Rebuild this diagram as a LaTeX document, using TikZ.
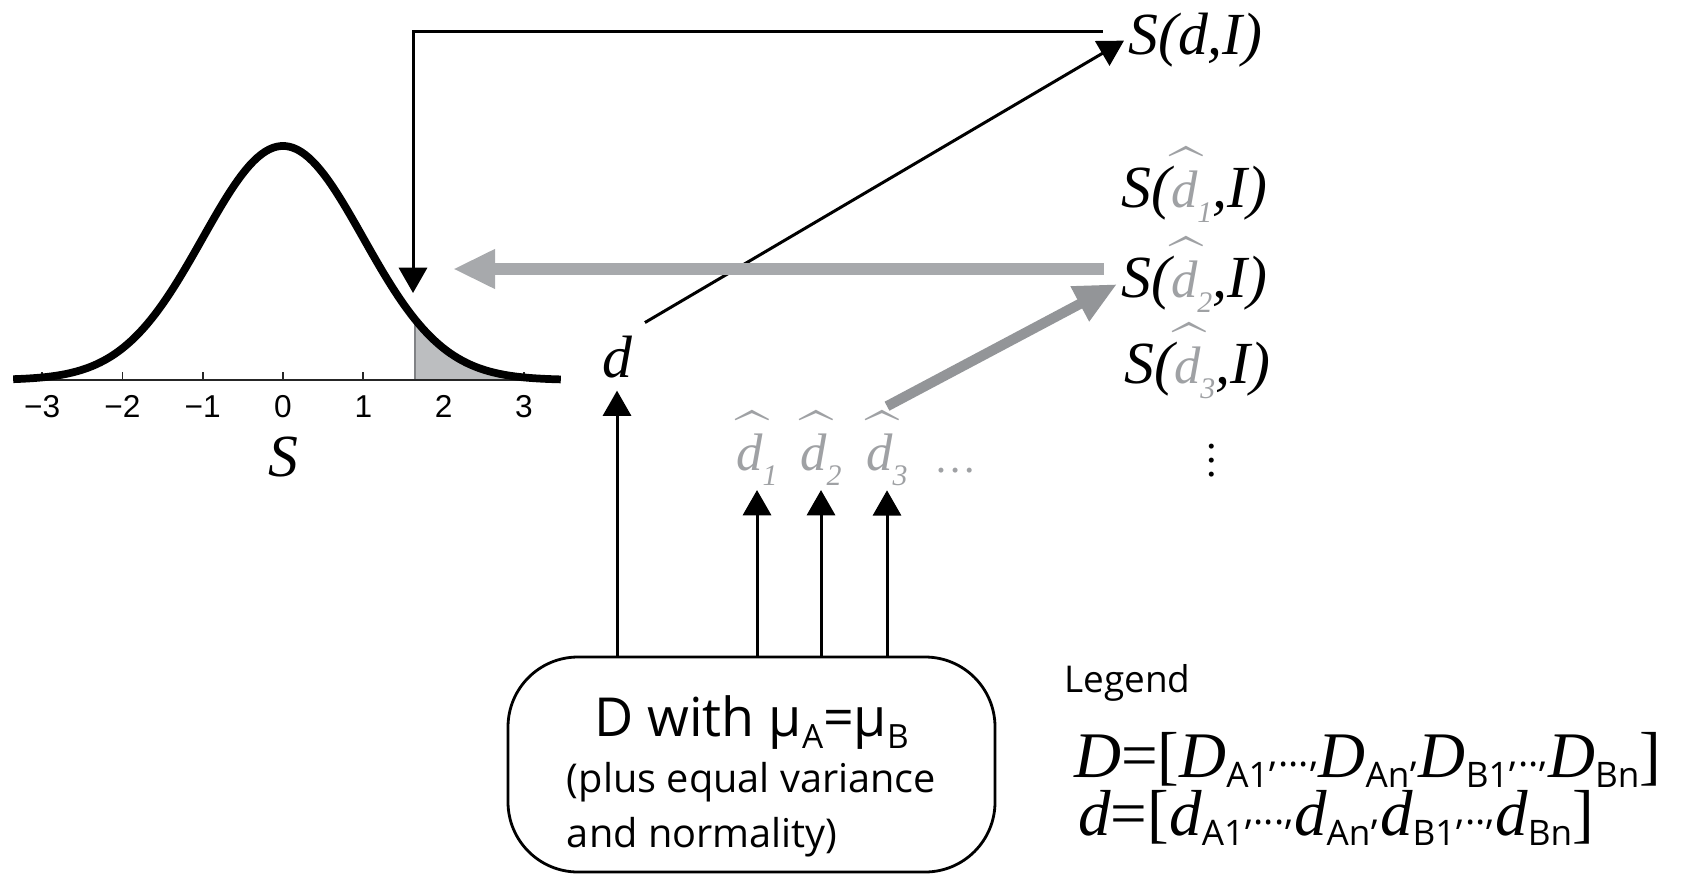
\documentclass[tikz,border=0pt]{standalone}
\usepackage{fontspec}
\usepackage{amsmath}
\usepackage{graphicx}
\setmainfont{Liberation Serif}
\setsansfont{Open Sans}
\newfontfamily\tickfont{Liberation Sans}
\usetikzlibrary{arrows.meta}
\definecolor{tailgray}{HTML}{BCBEC0}
\definecolor{edgegray}{HTML}{808285}
\definecolor{nullgray}{HTML}{A7A9AC}
\definecolor{simgray}{HTML}{939598}
\definecolor{hatgray}{HTML}{9FA1A4}
\newcommand{\hatd}{\ooalign{\itshape d\cr\hidewidth\kern1.5pt\scalebox{1.2}[1.15]{$\widehat{\phantom{\text{\itshape d}}}$}\hidewidth\cr}}
\newcommand{\dhat}[1]{\textcolor{hatgray}{\fontsize{15}{15}\selectfont\hatd\raisebox{-0.3em}{\fontsize{8.5}{8.5}\selectfont\itshape #1}}}
\newcommand{\lsub}[1]{\raisebox{-3pt}{\fontsize{10}{10}\selectfont\sffamily #1}}
\newcommand{\lsep}[1]{\raisebox{3pt}{\fontsize{11}{11}\selectfont\sffamily #1}}
\newcommand{\boxsub}[1]{\raisebox{-3.4pt}{\fontsize{9.5}{9.5}\selectfont #1}}
\begin{document}
\begin{tikzpicture}[
  every node/.style={inner sep=1pt},
  lab/.style={font=\fontsize{17}{17}\selectfont\itshape},
  ticklab/.style={font=\tickfont\fontsize{9}{9}\selectfont},
  thinarrow/.style={line width=0.85pt, -{Triangle[width=8pt,length=7.2pt]}},
  grayarrow/.style={line width=3.4pt, -{Triangle[width=10.5pt,length=12pt]}},
  nullbox/.style={draw, line width=0.8pt, rounded corners=0.7cm, minimum width=4.87cm, minimum height=2.15cm, font=\sffamily},
  legtext/.style={font=\sffamily\fontsize{10.5}{10.5}\selectfont},
  formula/.style={font=\fontsize{18.5}{18.5}\selectfont}
]
\useasboundingbox (0,0) rectangle (16.9,8.74);
\begin{scope}[shift={(2.83,4.94)}, x=0.803cm, y=2.34cm]
  \foreach \t in {-3,...,3} \draw[black!85, line width=0.5pt] (\t,0) -- (\t,0.035);
  \fill[tailgray] (1.645,0) -- plot[domain=1.645:3.46, samples=40] (\x,{exp(-0.5*(\x)*(\x))}) -- (3.46,0) -- cycle;
  \draw[edgegray, line width=0.6pt] (1.645,0) -- (1.645,{exp(-0.5*1.645*1.645)});
  \draw[black!85, line width=0.5pt] (-3.36,0) -- (3.46,0);
  \draw[line width=2.2pt, line join=round] plot[domain=-3.36:3.46, samples=140] (\x,{exp(-0.5*(\x)*(\x))});
  \foreach \t/\l [count=\i] in {-3/−3, -2/−2, -1/−1, 0/0, 1/1, 2/2, 3/3}
    \node[ticklab] (tk\i) at (\t,-0.113) {\l};
  \node[lab] (saxis) at (0,-0.33) {S};
\end{scope}
\node[lab, anchor=base west] (sdi) at (11.24,8.19) {S(d,I)};
\node[lab, anchor=base west] (sd1) at (11.17,6.67) {S(\dhat{1},I)};
\node[lab, anchor=base west] (sd2) at (11.17,5.77) {S(\dhat{2},I)};
\node[lab, anchor=base west] (sd3) at (11.20,4.91) {S(\dhat{3},I)};
\node[font=\fontsize{12}{12}\selectfont] (vd) at (12.12,4.24) {$\vdots$};
\node[lab, anchor=base, inner sep=3.5pt] (dobs) at (6.17,4.97) {d};
\node[anchor=base] (dh1) at (7.57,4.04) {\dhat{1}};
\node[anchor=base] (dh2) at (8.21,4.04) {\dhat{2}};
\node[anchor=base] (dh3) at (8.87,4.04) {\dhat{3}};
\node[anchor=base west, text=hatgray, font=\fontsize{12}{12}\selectfont] (more) at (9.30,4.02) {\dots};
\node[nullbox] (box) at (7.515,1.095) {\fontsize{11.3}{14.2}\selectfont
  \begin{tabular}{@{}l@{}}
  \multicolumn{1}{@{}c@{}}{\rule{0pt}{20pt}\fontsize{15.3}{16}\selectfont D with μ\boxsub{A}=μ\boxsub{B}}\\[1.5pt]
  (plus equal variance\\[1.5pt]
  and normality)
  \end{tabular}};
\node[legtext, anchor=base west] (leg) at (10.60,1.82) {Legend};
\node[formula, anchor=base west] (legD) at (10.70,0.97)
  {\textit{D}=[\textit{D}\lsub{A1}\lsep{,...,}\textit{D}\lsub{An}\lsep{,}\textit{D}\lsub{B1}\lsep{,..,}\textit{D}\lsub{Bn}]};
\node[formula, anchor=base west] (legd) at (10.74,0.39)
  {\textit{d}=[\textit{d}\lsub{A1}\lsep{,...,}\textit{d}\lsub{An}\lsep{,}\textit{d}\lsub{B1}\lsep{,..,}\textit{d}\lsub{Bn}]};
\coordinate (hit) at (4.13,5.81);
\coordinate (grayhit) at (4.53,6.05);
\draw[thinarrow] ([shift={(-0.215,0.09)}]sdi.west) -| (hit);
\draw[thinarrow] (dobs.north east) -- (sdi.west);
\draw[grayarrow, nullgray] ([xshift=-0.13cm]sd2.west |- grayhit) -- (grayhit);
\draw[grayarrow, simgray, line width=2.9pt] ([shift={(0,0.23)}]dh3.north) -- (sd2.west);
\draw[thinarrow] (box.north -| dobs) -- (dobs.south);
\foreach \n in {1,2,3} \draw[thinarrow] (box.north -| dh\n) -- (dh\n.south);
\end{tikzpicture}
\end{document}
